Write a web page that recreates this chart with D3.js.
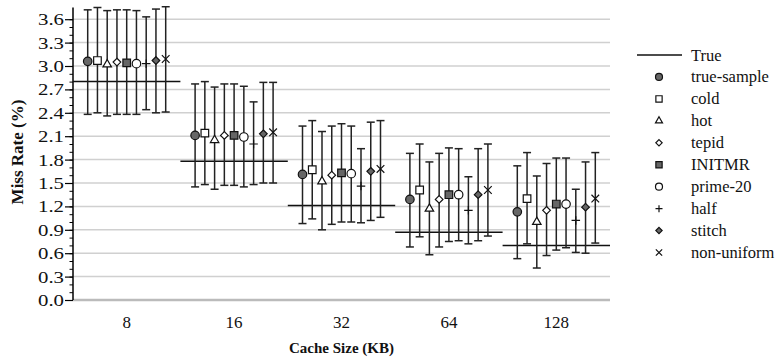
<!DOCTYPE html>
<html>
<head>
<meta charset="utf-8">
<script src="https://cdn.jsdelivr.net/npm/d3@7"></script>
<style>
body { margin: 0; background: #fff; }
</style>
</head>
<body>
<script>
var categories = ["8", "16", "32", "64", "128"];
var seriesNames = ["true-sample", "cold", "hot", "tepid", "INITMR", "prime-20", "half", "stitch", "non-uniform"];

// true miss rate per cache size
var trueVals = [2.80, 1.78, 1.21, 0.87, 0.70];

// sampled means per series
var meanTrueSample = [3.06, 2.11, 1.61, 1.29, 1.13];
var meanCold       = [3.07, 2.14, 1.67, 1.41, 1.30];
var meanHot        = [3.02, 2.05, 1.52, 1.17, 1.00];
var meanTepid      = [3.05, 2.11, 1.60, 1.29, 1.15];
var meanInitmr     = [3.04, 2.11, 1.63, 1.35, 1.23];
var meanPrime      = [3.03, 2.09, 1.62, 1.35, 1.23];
var meanHalf       = [3.03, 2.00, 1.46, 1.15, 1.02];
var meanStitch     = [3.07, 2.13, 1.65, 1.35, 1.19];
var meanNonUniform = [3.09, 2.15, 1.68, 1.41, 1.30];

// error bar tops
var hiTrueSample = [3.72, 2.77, 2.23, 1.88, 1.72];
var hiCold       = [3.75, 2.80, 2.30, 2.00, 1.89];
var hiHot        = [3.71, 2.73, 2.16, 1.77, 1.59];
var hiTepid      = [3.72, 2.77, 2.23, 1.88, 1.75];
var hiInitmr     = [3.72, 2.77, 2.26, 1.95, 1.82];
var hiPrime      = [3.71, 2.74, 2.23, 1.94, 1.82];
var hiHalf       = [3.63, 2.54, 1.94, 1.58, 1.42];
var hiStitch     = [3.73, 2.79, 2.28, 1.94, 1.77];
var hiNonUniform = [3.76, 2.79, 2.30, 2.00, 1.89];

// error bar bottoms
var loTrueSample = [2.38, 1.45, 0.98, 0.68, 0.53];
var loCold       = [2.40, 1.48, 1.04, 0.81, 0.72];
var loHot        = [2.36, 1.42, 0.90, 0.58, 0.41];
var loTepid      = [2.38, 1.47, 0.97, 0.68, 0.57];
var loInitmr     = [2.38, 1.47, 1.00, 0.75, 0.64];
var loPrime      = [2.38, 1.45, 1.00, 0.76, 0.67];
var loHalf       = [2.44, 1.48, 0.99, 0.72, 0.61];
var loStitch     = [2.40, 1.50, 1.02, 0.76, 0.60];
var loNonUniform = [2.41, 1.50, 1.06, 0.82, 0.73];

var yTicks = [0.0, 0.3, 0.6, 0.9, 1.2, 1.5, 1.8, 2.1, 2.4, 2.7, 3.0, 3.3, 3.6];

var means = [meanTrueSample, meanCold, meanHot, meanTepid, meanInitmr, meanPrime, meanHalf, meanStitch, meanNonUniform];
var highs = [hiTrueSample, hiCold, hiHot, hiTepid, hiInitmr, hiPrime, hiHalf, hiStitch, hiNonUniform];
var lows  = [loTrueSample, loCold, loHot, loTepid, loInitmr, loPrime, loHalf, loStitch, loNonUniform];

var markerKind = ["circle", "square", "triangle", "diamond", "square", "circle", "plus", "diamond", "x"];
var markerFill = ["#666", "#fff", "#fff", "#fff", "#666", "#fff", "none", "#666", "none"];

var width = 777;
var height = 362;
var padding = {top: 7.5, right: 167, bottom: 62, left: 73};
var serif = "'Liberation Serif'";

var svg = d3.select("body")
.append("svg")
.attr("width", width)
.attr("height", height);

var xScale = d3.scaleBand()
.domain(categories)
.range([padding.left, width - padding.right]);

var yScale = d3.scaleLinear()
.domain([0, 3.75])
.range([height - padding.bottom, padding.top]);

var offset = d3.scalePoint()
.domain(seriesNames)
.range([-39, 39]);

// grid
svg.selectAll(".grid")
.data(yTicks)
.enter()
.append("line")
.attr("x1", padding.left)
.attr("x2", width - padding.right)
.attr("y1", function(d){ return yScale(d); })
.attr("y2", function(d){ return yScale(d); })
.attr("stroke", function(d){ return d === 0 ? "#bbb" : "#d0d0d0"; })
.attr("stroke-width", function(d){ return d === 0 ? 2.5 : 1.5; });

// minor ticks
var minor = d3.axisLeft(yScale)
.tickValues(d3.range(0, 37).map(function(i){ return i / 10; }))
.tickSize(3.5)
.tickFormat("");
svg.append("g")
.attr("transform", "translate(" + padding.left + ",0)")
.call(minor)
.call(function(g){ g.select(".domain").remove(); });

var yAxis = d3.axisLeft(yScale)
.tickValues(yTicks)
.tickFormat(d3.format(".1f"))
.tickSize(8)
.tickPadding(1);

var gy = svg.append("g")
.attr("class", "axis")
.attr("transform", "translate(" + padding.left + ",0)")
.call(yAxis);
gy.select(".domain").attr("d", "M0," + yScale(3.75) + "V" + yScale(0)).attr("stroke-width", 1.5);
gy.selectAll(".tick line").attr("stroke-width", 1.2);
gy.selectAll("text")
.style("font-family", serif)
.style("font-size", "17px")
.attr("textLength", 26)
.attr("lengthAdjust", "spacingAndGlyphs")
.attr("fill", "#111");

// x labels
svg.selectAll(".xlab")
.data(categories)
.enter()
.append("text")
.attr("x", function(d){ return xScale(d) + xScale.bandwidth() / 2; })
.attr("y", 328)
.attr("text-anchor", "middle")
.style("font-family", serif)
.style("font-size", "17px")
.attr("fill", "#111")
.text(function(d){ return d; });

svg.append("text")
.attr("x", (padding.left + width - padding.right) / 2)
.attr("y", 353)
.attr("text-anchor", "middle")
.style("font-family", serif)
.style("font-size", "15px")
.style("font-weight", "bold")
.attr("fill", "#111")
.text("Cache Size (KB)");

svg.append("text")
.attr("transform", "translate(23,152) rotate(-90)")
.attr("text-anchor", "middle")
.style("font-family", serif)
.style("font-size", "17px")
.style("font-weight", "bold")
.attr("fill", "#111")
.text("Miss Rate (%)");

// true lines
svg.selectAll(".trueline")
.data(trueVals)
.enter()
.append("line")
.attr("x1", function(d, i){ return xScale(categories[i]); })
.attr("x2", function(d, i){ return xScale(categories[i]) + xScale.bandwidth(); })
.attr("y1", function(d){ return yScale(d); })
.attr("y2", function(d){ return yScale(d); })
.attr("stroke", "#111")
.attr("stroke-width", 1.5);

// s = nominal marker width in px
function markerPath(kind, s) {
	if (kind === "circle") return d3.symbol(d3.symbolCircle, s * s * Math.PI / 4)();
	if (kind === "square") return d3.symbol(d3.symbolSquare, s * s * 0.8)();
	if (kind === "triangle") return d3.symbol(d3.symbolTriangle, s * s * 0.433)();
	if (kind === "diamond") { var h = s * 0.45; return "M0," + (-h) + "L" + h + ",0L0," + h + "L" + (-h) + ",0Z"; }
	var r = s / 2;
	if (kind === "plus") return "M" + (-r) + ",0H" + r + "M0," + (-r) + "V" + r;
	r = s * 0.45;
	return "M" + (-r) + "," + (-r) + "L" + r + "," + r + "M" + (-r) + "," + r + "L" + r + "," + (-r);
}

var points = [];
seriesNames.forEach(function(name, s){
	categories.forEach(function(c, i){
		points.push({s: s, name: name, cat: c, mean: means[s][i], hi: highs[s][i], lo: lows[s][i]});
	});
});

var px = function(d){ return xScale(d.cat) + xScale.bandwidth() / 2 + offset(d.name); };

var bars = svg.selectAll(".err")
.data(points)
.enter()
.append("g")
.attr("stroke", "#222")
.attr("stroke-width", 1.5);

bars.append("line")
.attr("x1", px).attr("x2", px)
.attr("y1", function(d){ return yScale(d.hi); })
.attr("y2", function(d){ return yScale(d.lo); });
bars.append("line")
.attr("x1", function(d){ return px(d) - 4; }).attr("x2", function(d){ return px(d) + 4; })
.attr("y1", function(d){ return yScale(d.hi); })
.attr("y2", function(d){ return yScale(d.hi); });
bars.append("line")
.attr("x1", function(d){ return px(d) - 4; }).attr("x2", function(d){ return px(d) + 4; })
.attr("y1", function(d){ return yScale(d.lo); })
.attr("y2", function(d){ return yScale(d.lo); });

svg.selectAll(".mark")
.data(points)
.enter()
.append("path")
.attr("transform", function(d){ return "translate(" + px(d) + "," + yScale(d.mean) + ")"; })
.attr("d", function(d){ return markerPath(markerKind[d.s], 8.5); })
.attr("fill", function(d){ return markerFill[d.s]; })
.attr("stroke", "#111")
.attr("stroke-width", 1.2);

// legend
var legend = svg.append("g").attr("transform", "translate(637,55)");
legend.append("line")
.attr("x1", 0).attr("x2", 45)
.attr("stroke", "#111").attr("stroke-width", 1.5);
legend.append("text")
.attr("x", 54).attr("y", 5.5)
.style("font-family", serif)
.style("font-size", "16.5px")
.attr("fill", "#111")
.text("True");

var items = legend.selectAll(".item")
.data(seriesNames)
.enter()
.append("g")
.attr("transform", function(d, i){ return "translate(0," + (21.95 * (i + 1)) + ")"; });
items.append("path")
.attr("transform", "translate(22,0)")
.attr("d", function(d, i){ return markerPath(markerKind[i], 7); })
.attr("fill", function(d, i){ return markerFill[i]; })
.attr("stroke", "#111")
.attr("stroke-width", 1.2);
items.append("text")
.attr("x", 54).attr("y", 5.5)
.style("font-family", serif)
.style("font-size", "16.5px")
.attr("fill", "#111")
.text(function(d){ return d; });
</script>
</body>
</html>
